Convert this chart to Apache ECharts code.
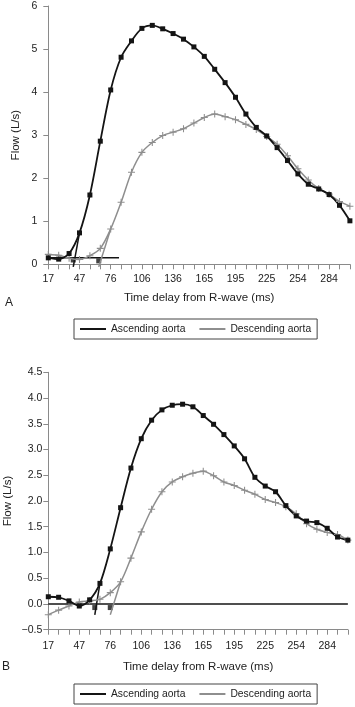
<!DOCTYPE html>
<html><head><meta charset="utf-8">
<script src="https://cdn.jsdelivr.net/npm/echarts@6/dist/echarts.min.js"></script>
<style>html,body{margin:0;padding:0;background:#fff}#c{width:355px;height:707px}</style>
</head><body><div id="c"></div>
<script>
// Tick labels of the time axis (ms), one per sample position
const timeTicks = [17,27,37,47,57,66,76,86,96,106,116,126,136,145,155,165,175,185,195,205,215,225,234,244,254,264,274,284,294,304];

// Panel A (L/s)
const ascA  = [0.15,0.12,0.25,0.73,1.61,2.86,4.05,4.81,5.19,5.48,5.55,5.47,5.36,5.23,5.05,4.83,4.53,4.22,3.88,3.49,3.18,2.98,2.71,2.41,2.10,1.86,1.75,1.62,1.37,1.01];
const descA = [0.23,0.21,0.14,0.11,0.20,0.37,0.82,1.44,2.14,2.60,2.83,2.99,3.07,3.15,3.28,3.41,3.49,3.43,3.36,3.25,3.13,2.97,2.79,2.52,2.22,1.96,1.76,1.63,1.46,1.35];
const baseA = [[0,0.15],[6.8,0.15]];
const tanAscA  = [[2.4,-0.06],[3,0.73]];
const tanDescA = [[4.85,-0.06],[6,0.82]];
const onsetA = [[2.4,0.10],[4.85,0.08]];

// Panel B (L/s)
const ascB  = [0.14,0.13,0.06,-0.04,0.08,0.40,1.07,1.87,2.64,3.21,3.57,3.77,3.86,3.88,3.83,3.66,3.49,3.29,3.07,2.82,2.46,2.29,2.18,1.91,1.71,1.61,1.58,1.47,1.30,1.24];
const descB = [-0.21,-0.12,-0.04,0.04,0.06,0.09,0.22,0.43,0.89,1.40,1.84,2.18,2.37,2.47,2.54,2.58,2.49,2.37,2.30,2.21,2.13,2.03,1.97,1.89,1.75,1.56,1.45,1.39,1.35,1.24];
const baseB = [[0,0],[29,0]];
const tanAscB  = [[4.5,-0.21],[5,0.40]];
const tanDescB = [[6.0,-0.21],[7,0.43]];
const onsetB = [[4.5,-0.07],[6.0,-0.07]];

const names = ['Ascending aorta','Descending aorta'];
const BLACK = '#141414', GRAY = '#8e8e8e', AXIS = '#8a8a8a', TXT = '#222';
const FONT = '"Liberation Sans", Arial, sans-serif';
const CROSS = 'path://M4.25,0H5.75V4.25H10V5.75H5.75V10H4.25V5.75H0V4.25H4.25Z';

const pts = arr => arr.map((v,i)=>[i,v]);

function xAxis(g, margin, gap){
  return {type:'value', gridIndex:g, min:0, max:29, interval:1,
    axisLine:{onZero:false, lineStyle:{color:AXIS,width:1}},
    axisTick:{length:5, lineStyle:{color:AXIS}},
    splitLine:{show:false},
    axisLabel:{margin:margin, color:TXT, fontSize:10.5, fontFamily:FONT, hideOverlap:false,
      formatter:v => (v%3===0 && v<=27) ? String(timeTicks[v]) : ''},
    name:'Time delay from R-wave (ms)', nameLocation:'middle', nameGap:gap, nameMoveOverlap:false,
    nameTextStyle:{color:TXT, fontSize:11.5, fontFamily:FONT}};
}
function yAxis(g, min, max, interval, fmt, margin, gap){
  return {type:'value', gridIndex:g, min:min, max:max, interval:interval,
    axisLine:{show:true, onZero:false, lineStyle:{color:AXIS,width:1}},
    axisTick:{show:true, length:5, lineStyle:{color:AXIS}},
    splitLine:{show:false},
    axisLabel:{margin:margin, color:TXT, fontSize:10.5, fontFamily:FONT, formatter:fmt},
    name:'Flow (L/s)', nameLocation:'middle', nameGap:gap, nameRotate:90, nameMoveOverlap:false,
    nameTextStyle:{color:TXT, fontSize:11.5, fontFamily:FONT}};
}
function lineS(name, g, data, color, width, symbol, size, smooth){
  return {type:'line', name:name, xAxisIndex:g, yAxisIndex:g, data:data,
    smooth:smooth, symbol:symbol||'none', symbolSize:size||0, showSymbol:!!symbol,
    clip:false, silent:true, animation:false,
    lineStyle:{color:color, width:width}, itemStyle:{color:color}};
}
function panel(g, asc, desc, base, tA, tD, onset){
  return [
    lineS('base'+g, g, base, BLACK, 1.5),
    lineS('tanA'+g, g, tA, BLACK, 1.5),
    lineS('tanD'+g, g, tD, GRAY, 1.5),
    lineS(names[1], g, pts(desc), GRAY, 1.5, CROSS, 7, 0.3),
    lineS(names[0], g, pts(asc), BLACK, 1.8, 'rect', 5, 0.3),
    {type:'scatter', xAxisIndex:g, yAxisIndex:g, data:onset, symbol:'rect', symbolSize:5,
      itemStyle:{color:BLACK}, clip:false, silent:true, animation:false}
  ];
}
function legend(top){
  return {left:74, top:top, orient:'horizontal', data:names, icon:'rect',
    itemWidth:26, itemHeight:2, itemGap:14, padding:[5,6], selectedMode:false,
    borderColor:'#444', borderWidth:1,
    textStyle:{fontSize:10.3, color:TXT, fontFamily:FONT}};
}

const chart = echarts.init(document.getElementById('c'), null, {renderer:'canvas'});
chart.setOption({
  animation:false,
  backgroundColor:'#fff',
  grid:[{left:48.3, top:6, width:29*10.4, height:258.3, containLabel:false, outerBoundsMode:'none'},
        {left:48.3, top:372.3, width:29*10.33, height:257.4, containLabel:false, outerBoundsMode:'none'}],
  xAxis:[xAxis(0, 9, 28), xAxis(1, 11, 31)],
  yAxis:[yAxis(0, 0, 6, 1, v=>String(v), 11, 26),
         yAxis(1, -0.5, 4.5, 0.5, v=>(v<0?'\u2212':'')+Math.abs(v).toFixed(1), 6, 34)],
  legend:[legend(319), legend(684)],
  graphic:[
    {type:'text', left:5, top:297, style:{text:'A', fontSize:12, fontFamily:FONT, fill:TXT}},
    {type:'text', left:2, top:661, style:{text:'B', fontSize:12, fontFamily:FONT, fill:TXT}}
  ],
  series:[].concat(panel(0, ascA, descA, baseA, tanAscA, tanDescA, onsetA),
                   panel(1, ascB, descB, baseB, tanAscB, tanDescB, onsetB))
});
</script></body></html>
